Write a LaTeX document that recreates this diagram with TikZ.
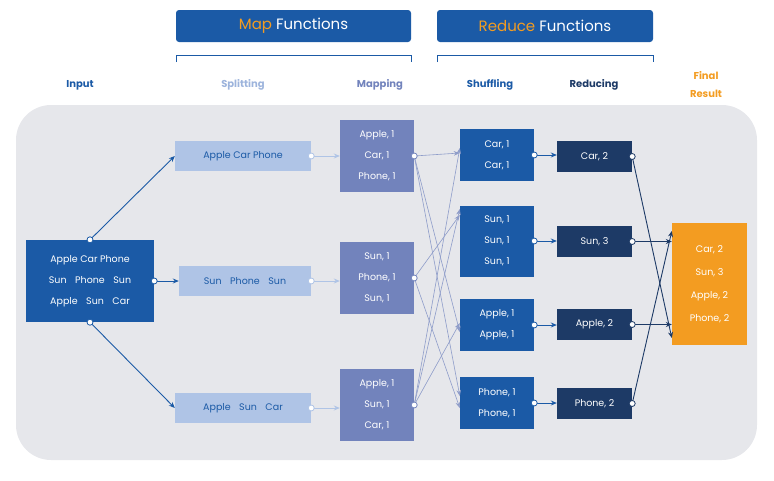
\documentclass[tikz,border=0pt]{standalone}
\usepackage{fontspec}
\setmainfont{Poppins}
\usetikzlibrary{arrows.meta}
\definecolor{cblue}{HTML}{1B5AA6}
\definecolor{clight}{HTML}{AFC4E6}
\definecolor{clighttx}{HTML}{9DB4DC}
\definecolor{cmap}{HTML}{7283BC}
\definecolor{cnavy}{HTML}{1D3A66}
\definecolor{corange}{HTML}{F39C21}
\definecolor{cbg}{HTML}{E6E7EB}
\begin{document}
\begin{tikzpicture}[x=1pt,y=-1pt,
  bx/.style={inner sep=0pt,align=center,text=white,font=\fontsize{9.5}{14}\selectfont},
  lab/.style={font=\fontsize{10}{12}\selectfont\bfseries},
  dot/.style={circle,draw=#1,fill=white,line width=0.8pt,inner sep=0pt,minimum size=6pt},
  ar/.style={-{Stealth[length=6pt,width=5pt]},line width=0.9pt,draw=#1},
  thin/.style={-{Stealth[length=6pt,width=4.5pt]},line width=0.6pt,draw=cmap!80}]
\useasboundingbox (0,0) rectangle (774,480);
\fill[cbg,rounded corners=35pt] (16,105) rectangle (757,460);
% headers
\node[fill=cblue,rounded corners=3pt,minimum width=235pt,minimum height=32pt,inner sep=0pt,font=\fontsize{15}{18}\selectfont] (hm) at (293.5,26) {\textcolor{corange}{Map} \textcolor{white}{Functions}};
\node[fill=cblue,rounded corners=3pt,minimum width=216pt,minimum height=32pt,inner sep=0pt,font=\fontsize{15}{18}\selectfont] (hr) at (545,26) {\textcolor{corange}{Reduce} \textcolor{white}{Functions}};
\draw[cblue,line width=0.8pt] (176,62) -- (176,55) -- (411,55) -- (411,62);
\draw[cblue,line width=0.8pt] (437,62) -- (437,55) -- (653,55) -- (653,62);
\node[lab,text=cblue] (l1) at (80,85) {Input};
\node[lab,text=clighttx] (l2) at (243,85) {Splitting};
\node[lab,text=cmap] (l3) at (380,85) {Mapping};
\node[lab,text=cblue] (l4) at (490,85) {Shuffling};
\node[lab,text=cnavy] (l5) at (594,85) {Reducing};
\node[lab,text=corange,align=center,font=\fontsize{10}{18}\selectfont\bfseries] (l6) at (706,85) {Final\\Result};
% input
\node[bx,fill=cblue,minimum width=128pt,minimum height=82pt,font=\fontsize{9.5}{21}\selectfont] (in) at (90,281) {Apple Car Phone\\Sun\hspace{0.9em}Phone\hspace{0.9em}Sun\\Apple\hspace{0.9em}Sun\hspace{0.9em}Car};
% split
\node[bx,fill=clight,text=cblue,minimum width=136pt,minimum height=30pt] (s1) at (243,156) {Apple Car Phone};
\node[bx,fill=clight,text=cblue,minimum width=132pt,minimum height=30pt] (s2) at (245,281) {Sun\hspace{0.9em}Phone\hspace{0.9em}Sun};
\node[bx,fill=clight,text=cblue,minimum width=136pt,minimum height=30pt] (s3) at (243,408) {Apple\hspace{0.9em}Sun\hspace{0.9em}Car};
% map
\node[bx,fill=cmap,minimum width=74pt,minimum height=72pt,font=\fontsize{9.5}{21}\selectfont] (m1) at (377,156) {Apple, 1\\Car, 1\\Phone, 1};
\node[bx,fill=cmap,minimum width=74pt,minimum height=72pt,font=\fontsize{9.5}{21}\selectfont] (m2) at (377,278) {Sun, 1\\Phone, 1\\Sun, 1};
\node[bx,fill=cmap,minimum width=74pt,minimum height=72pt,font=\fontsize{9.5}{21}\selectfont] (m3) at (377,405) {Apple, 1\\Sun, 1\\Car, 1};
% shuffle
\node[bx,fill=cblue,minimum width=74pt,minimum height=52pt,font=\fontsize{9.5}{21}\selectfont] (h1) at (497,155) {Car, 1\\Car, 1};
\node[bx,fill=cblue,minimum width=74pt,minimum height=71pt,font=\fontsize{9.5}{21}\selectfont] (h2) at (497,241) {Sun, 1\\Sun, 1\\Sun, 1};
\node[bx,fill=cblue,minimum width=74pt,minimum height=52pt,font=\fontsize{9.5}{21}\selectfont] (h3) at (497,325) {Apple, 1\\Apple, 1};
\node[bx,fill=cblue,minimum width=74pt,minimum height=52pt,font=\fontsize{9.5}{21}\selectfont] (h4) at (497,403) {Phone, 1\\Phone, 1};
% reduce
\node[bx,fill=cnavy,minimum width=75pt,minimum height=31pt] (r1) at (594.5,156.5) {Car, 2};
\node[bx,fill=cnavy,minimum width=75pt,minimum height=31pt] (r2) at (594.5,241.5) {Sun, 3};
\node[bx,fill=cnavy,minimum width=75pt,minimum height=31pt] (r3) at (594.5,324.5) {Apple, 2};
\node[bx,fill=cnavy,minimum width=75pt,minimum height=31pt] (r4) at (594.5,403.5) {Phone, 2};
% final
\node[bx,fill=corange,minimum width=75pt,minimum height=122pt,font=\fontsize{9.5}{23}\selectfont] (f) at (709.5,284) {Car, 2\\Sun, 3\\Apple, 2\\Phone, 2};
% input -> split
\draw[ar=cblue] (in.north) -- (s1.west);
\draw[ar=cblue] (in.east) -- (s2.west);
\draw[ar=cblue] (in.south) -- (s3.west);
\node[dot=cblue] (d1) at (in.north) {};
\node[dot=cblue] (d2) at (in.east) {};
\node[dot=cblue] (d3) at (in.south) {};
% split -> map
\foreach \a/\b in {s1/m1,s2/m2,s3/m3}{
  \draw[ar=clight] (\a.east) -- (\b.west |- \a.east);
  \node[dot=clight] at (\a.east) {};
}
% map -> shuffle
\draw[thin] (m1.east) -- ([yshift=2pt]h1.west);
\draw[thin] (m1.east) -- ([yshift=-7pt]h3.west);
\draw[thin] (m1.east) -- ([yshift=7pt]h4.west);
\draw[thin] (m2.east) -- ([yshift=26pt]h2.west);
\draw[thin] (m2.east) -- ([yshift=-5pt]h4.west);
\draw[thin] (m3.east) -- ([yshift=7pt]h1.west);
\draw[thin] (m3.east) -- ([yshift=32pt]h2.west);
\draw[thin] (m3.east) -- ([yshift=2pt]h3.west);
\foreach \m in {m1,m2,m3}{\node[dot=cmap] at (\m.east) {};}
% shuffle -> reduce
\foreach \a/\b in {h1/r1,h2/r2,h3/r3,h4/r4}{
  \draw[ar=cblue] (\a.east) -- (\b.west |- \a.east);
  \node[dot=cblue] at (\a.east) {};
}
% reduce -> final
\draw[ar=cnavy] (r1.east) -- ([yshift=-54pt]f.west);
\draw[ar=cnavy] (r2.east) -- (f.west |- r2.east);
\draw[ar=cnavy] (r3.east) -- (f.west |- r3.east);
\draw[ar=cnavy] (r4.east) -- ([yshift=53pt]f.west);
\foreach \r in {r1,r2,r3,r4}{\node[dot=cnavy] at (\r.east) {};}
\end{tikzpicture}
\end{document}
